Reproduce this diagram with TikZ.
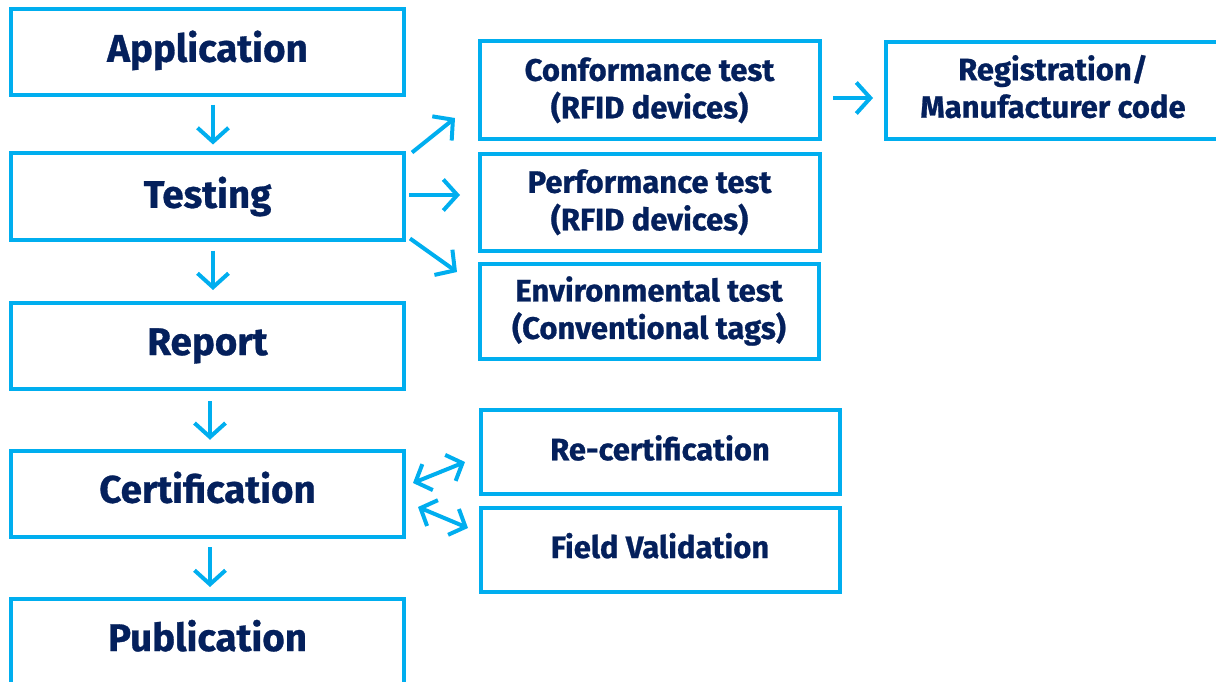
\documentclass[tikz,border=0pt]{standalone}
\usepackage{fontspec}
\setmainfont{Fira Sans}[BoldFeatures={FakeBold=0.8}]
\usetikzlibrary{arrows.meta}
\definecolor{cyanline}{RGB}{0,174,239}
\definecolor{navytext}{RGB}{4,32,92}
% set a (possibly multi-line) label on struts, nudged vertically without changing its box
\newcommand\liftup[2]{\raisebox{#1}[\height][\depth]{\begin{tabular}{@{}c@{}}#2\end{tabular}}}
\begin{document}
\begin{tikzpicture}[x=1pt,y=-1pt,
  box/.style={draw=cyanline, line width=4pt, outer sep=0pt, inner sep=0pt,
    align=center, text=navytext, font=\bfseries},
  bigbox/.style={box, minimum width=393pt, minimum height=86pt,
    font=\bfseries\fontsize{38.5}{44}\selectfont},
  smallbox/.style={box, font=\bfseries\fontsize{31}{37.5}\selectfont},
  arr/.style={draw=cyanline, line width=4pt,
    -{Straight Barb[length=14pt,width=31pt]}},
  dblarr/.style={draw=cyanline, line width=4pt,
    {Straight Barb[length=13pt,width=28pt]}-{Straight Barb[length=13pt,width=28pt]}}
]
\useasboundingbox (0,0) rectangle (1216,682);
\clip (0,0) rectangle (1216,682);

% main process column
\node[bigbox] (app)  at (207.5,51.75)  {\liftup{-1pt}{Application}};
\node[bigbox] (test) at (207.5,196.5)  {Testing};
\node[bigbox] (rep)  at (207.5,346)    {Report};
\node[bigbox] (cert) at (207.5,493.75) {\liftup{0pt}{Certification}};
\node[bigbox, minimum height=87pt] (pub) at (207.5,642) {\liftup{0pt}{Publication}};

% test branches
\node[smallbox, minimum width=340pt, minimum height=97.5pt] (conf) at (649.5,90.25)
  {Conformance test\\(RFID devices)};
\node[smallbox, minimum width=340pt, minimum height=96.5pt] (perf) at (649.5,202.25)
  {Performance test\\(RFID devices)};
\node[smallbox, minimum width=339pt, minimum height=95pt] (env) at (649,311)
  {Environmental test\\(Conventional tags)};
\node[smallbox, minimum width=334pt, minimum height=97pt] (reg) at (1053,90.5)
  {\liftup{-1pt}{Registration/\\Manufacturer code}};

% certification follow-ups
\node[smallbox, minimum width=359pt, minimum height=84.5pt] (recert) at (660,451.75)
  {\liftup{-1pt}{Re-certification}};
\node[smallbox, minimum width=359pt, minimum height=84pt] (field) at (660,550)
  {\liftup{-0.5pt}{Field Validation}};

% main flow arrows
\draw[arr] ([shift={(5.5,10)}]app.south)  -- ([shift={(5.5,-9)}]test.north);
\draw[arr] ([shift={(5.5,11)}]test.south) -- ([shift={(5.5,-13)}]rep.north);
\draw[arr] ([shift={(2.5,12)}]rep.south)  -- ([shift={(2.5,-11)}]cert.north);
\draw[arr] ([shift={(2.5,10.5)}]cert.south) -- ([shift={(2.5,-11.5)}]pub.north);

% testing branches
\draw[arr] ([shift={(8,-1)}]test.north east) -- ([shift={(-24.5,-21)}]conf.south west);
\draw[arr] ([shift={(5,-1.5)}]test.east) -- ([shift={(-19.5,-7.25)}]perf.west);
\draw[arr] ([shift={(6,-1)}]test.south east) -- ([shift={(-22.5,8.5)}]env.north west);
\draw[arr] ([shift={(13.5,7.75)}]conf.east) -- ([shift={(-13,7.5)}]reg.west);

% two-way links from certification
\draw[dblarr] ([shift={(9,-10.75)}]cert.east) -- ([shift={(-15.5,10.25)}]recert.west);
\draw[dblarr] ([shift={(14,13.25)}]cert.east) -- ([shift={(-12.5,-22)}]field.west);
\end{tikzpicture}
\end{document}
